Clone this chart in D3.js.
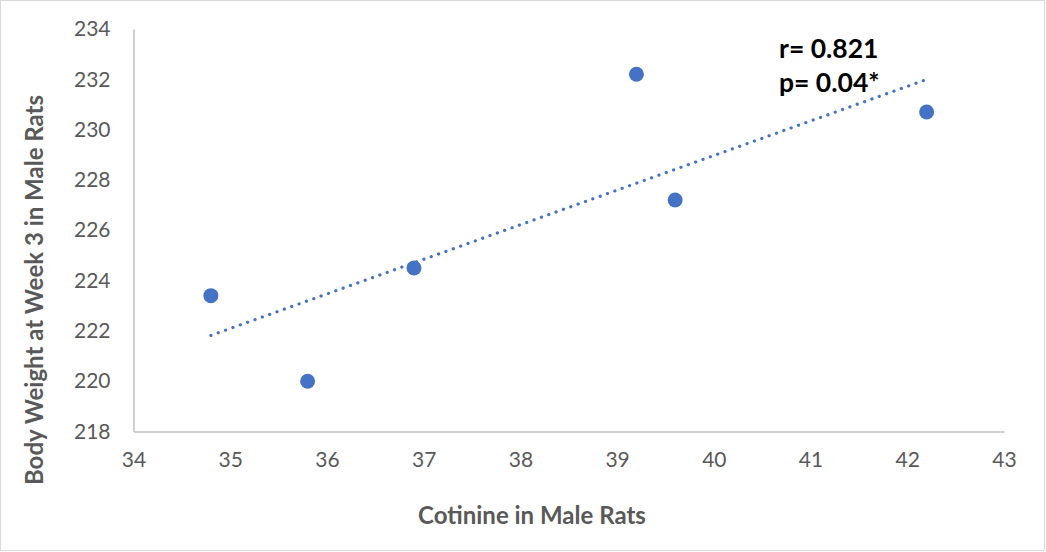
<!DOCTYPE html>
<html>
<head>
<meta charset="utf-8">
<script src="https://cdn.jsdelivr.net/npm/d3@7"></script>
<style>
  html, body { margin: 0; padding: 0; background: #fff; }
  svg { display: block; }
</style>
</head>
<body>
<svg id="chart" width="1046" height="552"></svg>
<script>
const cotinine = [34.8, 35.8, 36.9, 39.2, 39.6, 42.2];
const bodyWeight = [223.4, 220.0, 224.5, 232.2, 227.2, 230.7];
const xTicks = [34, 35, 36, 37, 38, 39, 40, 41, 42, 43];
const yTicks = [218, 220, 222, 224, 226, 228, 230, 232, 234];
const annotations = ["r= 0.821", "p= 0.04*"];
const xTitle = "Cotinine in Male Rats";
const yTitle = "Body Weight at Week 3 in Male Rats";

const W = 1046, H = 552;
const margin = { left: 133.5, right: 42, top: 29, bottom: 120.5 };
const svg = d3.select("#chart");
const font = "Lato, 'Open Sans', sans-serif";

svg.append("rect").attr("x", 0.5).attr("y", 0.5).attr("width", W - 2).attr("height", H - 2)
  .attr("fill", "#fff").attr("stroke", "#d9d9d9").attr("stroke-width", 1);

const x = d3.scaleLinear().domain([34, 43]).range([margin.left, W - margin.right]);
const y = d3.scaleLinear().domain([218, 234]).range([H - margin.bottom, margin.top]);

// axes
const xAxis = svg.append("g").attr("transform", `translate(0,${y(218)})`)
  .call(d3.axisBottom(x).tickValues(xTicks).tickSize(0).tickPadding(23).tickFormat(d3.format("d")));
const yAxis = svg.append("g").attr("transform", `translate(${x(34)},0)`)
  .call(d3.axisLeft(y).tickValues(yTicks).tickSize(0).tickPadding(23).tickFormat(d3.format("d")));
[xAxis, yAxis].forEach(g => {
  g.select(".domain").attr("stroke", "#bfbfbf").attr("stroke-width", 1.5);
  g.selectAll("text").attr("fill", "#595959").style("font-family", font).style("font-size", "21px");
});
xAxis.selectAll("text").attr("dy", "0.6em");

// trendline (least squares)
const n = cotinine.length;
const mx = d3.mean(cotinine), my = d3.mean(bodyWeight);
let sxy = 0, sxx = 0;
for (let i = 0; i < n; i++) { sxy += (cotinine[i] - mx) * (bodyWeight[i] - my); sxx += (cotinine[i] - mx) ** 2; }
const slope = sxy / sxx, intercept = my - slope * mx;
const x0 = d3.min(cotinine), x1 = d3.max(cotinine);
svg.append("line")
  .attr("x1", x(x0)).attr("y1", y(intercept + slope * x0))
  .attr("x2", x(x1)).attr("y2", y(intercept + slope * x1))
  .attr("stroke", "#4472C4").attr("stroke-width", 3.2)
  .attr("stroke-linecap", "round").attr("stroke-dasharray", "0.1 7.7");

// points
svg.append("g").selectAll("circle").data(cotinine).join("circle")
  .attr("cx", d => x(d)).attr("cy", (d, i) => y(bodyWeight[i])).attr("r", 7.5)
  .attr("fill", "#4472C4");

// annotations
svg.append("g").selectAll("text").data(annotations).join("text")
  .attr("x", 779).attr("y", (d, i) => 58 + i * 34)
  .attr("fill", "#000").style("font-family", font).style("font-weight", "bold").style("font-size", "26.5px")
  .text(d => d);

// titles
svg.append("text").attr("x", 532).attr("y", 524).attr("text-anchor", "middle")
  .attr("fill", "#595959").style("font-family", font).style("font-weight", "bold").style("font-size", "24px")
  .text(xTitle);
svg.append("text").attr("transform", `translate(43,290) rotate(-90)`).attr("text-anchor", "middle")
  .attr("fill", "#595959").style("font-family", font).style("font-weight", "bold").style("font-size", "24px")
  .text(yTitle);
</script>
</body>
</html>
